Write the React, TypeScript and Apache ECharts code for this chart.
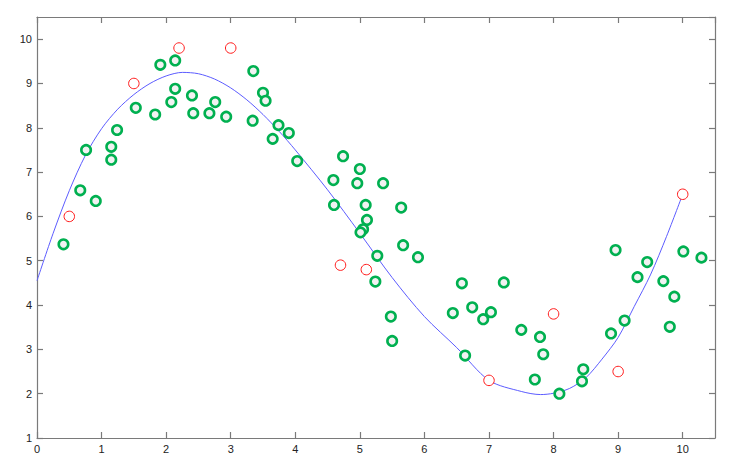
import React, { useEffect, useRef } from "react";
import * as echarts from "echarts";

const greenX = [0.41, 0.67, 0.76, 0.91, 1.15, 1.15, 1.24, 1.53, 1.83, 1.91, 2.08, 2.14, 2.14, 2.4, 2.42, 2.67, 2.76, 2.93, 3.35, 3.34, 3.5, 3.54, 3.65, 3.74, 3.9, 4.03, 4.59, 4.6, 4.74, 4.96, 5.0, 5.09, 5.11, 5.05, 5.01, 5.36, 5.27, 5.24, 5.48, 5.5, 5.64, 5.67, 5.9, 6.44, 6.58, 6.74, 6.91, 7.03, 6.63, 7.23, 7.5, 7.71, 7.79, 7.84, 8.09, 8.46, 8.44, 8.89, 8.96, 9.1, 9.3, 9.45, 9.7, 9.8, 9.87, 10.01, 10.29];
const greenY = [5.37, 6.59, 7.5, 6.35, 7.57, 7.28, 7.95, 8.45, 8.3, 9.42, 8.58, 8.88, 9.52, 8.73, 8.33, 8.33, 8.58, 8.25, 9.28, 8.16, 8.79, 8.61, 7.75, 8.06, 7.88, 7.25, 6.82, 6.26, 7.36, 6.75, 7.07, 6.26, 5.92, 5.71, 5.64, 6.75, 5.11, 4.53, 3.74, 3.19, 6.2, 5.35, 5.08, 3.82, 4.49, 3.95, 3.68, 3.84, 2.86, 4.51, 3.44, 2.32, 3.28, 2.89, 2.0, 2.55, 2.28, 3.36, 5.24, 3.65, 4.63, 4.97, 4.54, 3.51, 4.19, 5.21, 5.07];

const redX = [0.5, 1.5, 2.2, 3.0, 4.7, 5.1, 7.0, 8.0, 9.0, 10.0];
const redY = [6.0, 9.0, 9.8, 9.8, 4.9, 4.8, 2.3, 3.8, 2.5, 6.5];

const curveX = [0, 0.25, 0.5, 0.75, 1, 1.25, 1.5, 1.75, 2, 2.25, 2.5, 2.75, 3, 3.25, 3.5, 3.75, 4, 4.5, 5, 5.5, 6, 6.5, 7, 7.5, 7.8, 8, 8.25, 8.5, 8.75, 9, 9.25, 9.5, 9.75, 10];
const curveY = [4.55, 5.62, 6.58, 7.38, 7.98, 8.42, 8.75, 9.0, 9.17, 9.25, 9.22, 9.1, 8.9, 8.63, 8.3, 7.92, 7.5, 6.6, 5.62, 4.62, 3.74, 3.04, 2.3, 2.05, 1.98, 2.01, 2.12, 2.36, 2.78, 3.27, 3.97, 4.68, 5.55, 6.5];

const xTicks = { min: 0, max: 10.5, interval: 1 };
const yTicks = { min: 1, max: 10.5, interval: 1 };

const axisColor = "#7a7a7a";
const labelColor = "#222222";
const fontFamily = "Liberation Sans, Arial, sans-serif";

export default function App() {
  const ref = useRef<HTMLDivElement>(null);
  useEffect(() => {
    if (!ref.current) return;
    const chart = echarts.init(ref.current, undefined, { renderer: "svg" });
    const fmt = (v: number) => (Number.isInteger(v) ? String(v) : "");
    const lineStyle = { color: axisColor, width: 1.2 };
    const tick = { show: true, inside: true, length: 6, lineStyle: { color: axisColor, width: 1.2 } };
    chart.setOption({
      animation: false,
      backgroundColor: "#ffffff",
      grid: { left: 37, right: 28, top: 17, bottom: 37, containLabel: false },
      xAxis: [
        {
          type: "value",
          min: xTicks.min,
          max: xTicks.max,
          interval: xTicks.interval,
          position: "bottom",
          axisLine: { show: true, onZero: false, lineStyle },
          axisTick: tick,
          axisLabel: { formatter: fmt, color: labelColor, fontSize: 11, fontFamily, margin: 5, showMaxLabel: false },
          splitLine: { show: false },
        },
        {
          type: "value",
          min: xTicks.min,
          max: xTicks.max,
          interval: xTicks.interval,
          position: "top",
          axisLine: { show: true, onZero: false, lineStyle },
          axisTick: tick,
          axisLabel: { show: false },
          splitLine: { show: false },
        },
      ],
      yAxis: [
        {
          type: "value",
          min: yTicks.min,
          max: yTicks.max,
          interval: yTicks.interval,
          position: "left",
          axisLine: { show: true, onZero: false, lineStyle },
          axisTick: tick,
          axisLabel: { formatter: fmt, color: labelColor, fontSize: 11, fontFamily, margin: 5, showMaxLabel: false },
          splitLine: { show: false },
        },
        {
          type: "value",
          min: yTicks.min,
          max: yTicks.max,
          interval: yTicks.interval,
          position: "right",
          axisLine: { show: true, onZero: false, lineStyle },
          axisTick: tick,
          axisLabel: { show: false },
          splitLine: { show: false },
        },
      ],
      series: [
        {
          type: "line",
          data: curveX.map((x, i) => [x, curveY[i]]),
          showSymbol: false,
          smooth: 0.3,
          lineStyle: { color: "#5c5cff", width: 1 },
          z: 1,
        },
        {
          type: "scatter",
          data: redX.map((x, i) => [x, redY[i]]),
          symbol: "circle",
          symbolSize: 10.5,
          itemStyle: { color: "#ffffff", borderColor: "#ff1a1a", borderWidth: 1, opacity: 1 },
          z: 3,
        },
        {
          type: "scatter",
          data: greenX.map((x, i) => [x, greenY[i]]),
          symbol: "circle",
          symbolSize: 9.5,
          itemStyle: { color: "#f2f2f2", borderColor: "#00b050", borderWidth: 2.6, opacity: 1 },
          z: 4,
        },
      ],
    });
    return () => chart.dispose();
  }, []);
  return (
    <div
      ref={ref}
      style={{ position: "fixed", left: 0, top: 0, width: 743, height: 475, background: "#fff" }}
    />
  );
}
